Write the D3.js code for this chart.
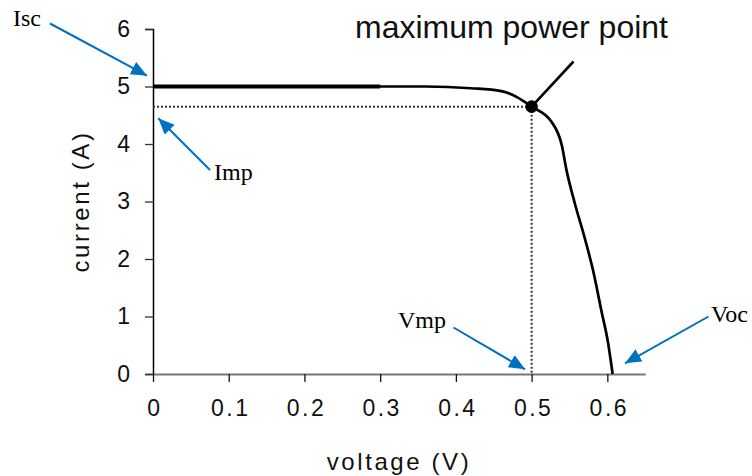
<!DOCTYPE html>
<html><head><meta charset="utf-8">
<script src="https://cdn.jsdelivr.net/npm/d3@7"></script>
<style>
html,body{margin:0;padding:0;background:#fff;}
svg{display:block;}
</style></head>
<body>
<script>
// ---- data ----
const voltage = [0, 0.30, 0.36, 0.42, 0.46, 0.48, 0.50, 0.526, 0.54, 0.546, 0.557, 0.57, 0.581, 0.592, 0.601, 0.607];
const current = [5.0, 5.0, 5.0, 4.97, 4.92, 4.82, 4.65, 4.39, 3.97, 3.55, 2.97, 2.37, 1.81, 1.11, 0.54, 0.0];
const thickUpTo = 0.30;
const xTicks = [0, 0.1, 0.2, 0.3, 0.4, 0.5, 0.6];
const yTicks = [0, 1, 2, 3, 4, 5, 6];
const Isc = 5.0, Imp = 4.65, Vmp = 0.5, Voc = 0.607;
const titleText = "maximum power point";
const xTitle = "voltage (V)";
const yTitle = "current (A)";

const W = 752, H = 476;
const svg = d3.select("body").append("svg").attr("width", W).attr("height", H);

const x = d3.scaleLinear().domain([0, 0.65]).range([153, 645.2]);
const y = d3.scaleLinear().domain([0, 6]).range([374, 29]);

const defs = svg.append("defs");
defs.append("marker").attr("id", "bluehead")
  .attr("viewBox", "0 0 16 14").attr("refX", 16).attr("refY", 7)
  .attr("markerWidth", 16).attr("markerHeight", 14).attr("markerUnits", "userSpaceOnUse")
  .attr("orient", "auto")
  .append("path").attr("d", "M0,0 L16,7 L0,14 Z").attr("fill", "#0070C0");

// axes
const sans = "'Liberation Sans', Arial, sans-serif";
const yAxis = svg.append("g").attr("transform", `translate(${x(0)},0)`)
  .call(d3.axisLeft(y).tickValues(yTicks).tickSize(8).tickPadding(15).tickFormat(d3.format("d")));
yAxis.select(".domain").attr("stroke", "#000").attr("stroke-width", 1.5);
yAxis.selectAll(".tick line").attr("stroke", "#333").attr("stroke-width", 1.3);
yAxis.selectAll(".tick text").attr("font-family", sans).attr("font-size", 23).attr("fill", "#111");

const xAxis = svg.append("g").attr("transform", `translate(0,${y(0)})`)
  .call(d3.axisBottom(x).tickValues(xTicks).tickSize(8).tickPadding(18).tickSizeOuter(0)
    .tickFormat(d => d === 0 ? "0" : d3.format(".1f")(d)));
xAxis.select(".domain").attr("stroke", "#777").attr("stroke-width", 2);
xAxis.selectAll(".tick line").attr("stroke", "#111").attr("stroke-width", 1.3);
xAxis.selectAll(".tick text").attr("font-family", sans).attr("font-size", 23).attr("fill", "#111")
  .attr("letter-spacing", 2.5).attr("dx", 1.5);

// axis titles
svg.append("text").attr("x", 399).attr("y", 470).attr("text-anchor", "middle")
  .attr("font-family", sans).attr("font-size", 24).attr("letter-spacing", 2.6).attr("fill", "#111")
  .text(xTitle);
svg.append("text").attr("transform", `translate(89,${(y(0) + y(6)) / 2}) rotate(-90)`)
  .attr("text-anchor", "middle")
  .attr("font-family", sans).attr("font-size", 24).attr("letter-spacing", 2.6).attr("fill", "#111")
  .text(yTitle);

// dotted guide lines to MPP
svg.append("line").attr("x1", x(0)).attr("x2", x(Vmp)).attr("y1", y(Imp)).attr("y2", y(Imp))
  .attr("stroke", "#333").attr("stroke-width", 2).attr("stroke-dasharray", "2,2");
svg.append("line").attr("x1", x(Vmp)).attr("x2", x(Vmp)).attr("y1", y(Imp)).attr("y2", y(0))
  .attr("stroke", "#333").attr("stroke-width", 2).attr("stroke-dasharray", "2,2");

// IV curve
const pts = voltage.map((v, i) => [v, current[i]]);
const lineX = d3.line().x(d => x(d[0])).y(d => y(d[1])).curve(d3.curveMonotoneX);
svg.append("path").datum(pts).attr("d", lineX).attr("fill", "none")
  .attr("stroke", "#000").attr("stroke-width", 2.7).attr("stroke-linejoin", "round");
svg.append("path").datum(pts.filter(p => p[0] <= thickUpTo)).attr("d", lineX).attr("fill", "none")
  .attr("stroke", "#000").attr("stroke-width", 4);

// MPP dot and pointer
svg.append("line").attr("x1", x(Vmp)).attr("y1", y(Imp)).attr("x2", 573.5).attr("y2", 61.5)
  .attr("stroke", "#000").attr("stroke-width", 2.6);
svg.append("circle").attr("cx", x(Vmp)).attr("cy", y(Imp)).attr("r", 6.3).attr("fill", "#000");

svg.append("text").attr("x", 355).attr("y", 38).attr("font-family", sans).attr("font-size", 32)
  .attr("fill", "#111").text(titleText);

// blue annotation arrows
const serif = "'Liberation Serif', 'Times New Roman', serif";
const notes = [
  {t: "Isc", tx: 13, ty: 26, from: [50, 23.5], to: [x(0) - 6, y(Isc) - 10.8]},
  {t: "Imp", tx: 214, ty: 180, from: [210, 170], to: [x(0) + 5.3, y(Imp) + 11.7]},
  {t: "Vmp", tx: 398, ty: 328, from: [453.5, 327.5], to: [x(Vmp) - 6.6, y(0) - 4.7]},
  {t: "Voc", tx: 711, ty: 322, from: [708.5, 316.5], to: [x(Voc) + 12.4, y(0) - 10.7]}
];
notes.forEach(n => {
  svg.append("line").attr("x1", n.from[0]).attr("y1", n.from[1]).attr("x2", n.to[0]).attr("y2", n.to[1])
    .attr("stroke", "#0070C0").attr("stroke-width", 2).attr("marker-end", "url(#bluehead)");
  svg.append("text").attr("x", n.tx).attr("y", n.ty).attr("font-family", serif).attr("font-size", 24)
    .attr("fill", "#000").text(n.t);
});
</script>
</body></html>
